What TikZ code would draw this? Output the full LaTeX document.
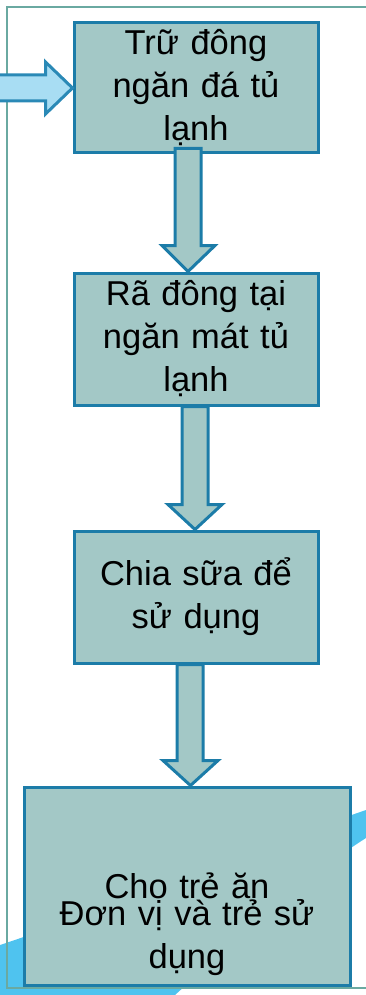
\documentclass[tikz,border=0pt]{standalone}
\usepackage{fontspec}
\setmainfont{Liberation Sans}
\usetikzlibrary{calc}

\begin{document}
\begin{tikzpicture}[x=1pt,y=-1pt]
  \definecolor{boxfill}{HTML}{A3C8C6}
  \definecolor{boxline}{HTML}{1C7CA8}
  \definecolor{frameline}{HTML}{6AA9A1}
  \definecolor{feedfill}{HTML}{A8DDF3}
  \definecolor{feedline}{HTML}{2A89B6}
  \definecolor{swoosh}{HTML}{4FC3EF}
  \tikzset{
    stepbox/.style={draw=boxline,fill=boxfill,line width=3pt,minimum width=244pt,
      inner sep=0pt,align=center,text width=236pt,font=\fontsize{34.5}{43}\selectfont},
    steptext/.style={inner sep=0pt,align=center,text width=300pt,font=\fontsize{34.5}{43}\selectfont},
    downarrow/.style={draw=boxline,fill=boxfill,line width=3pt,line join=miter},
    feedarrow/.style={draw=feedline,fill=feedfill,line width=3pt,line join=miter}
  }
  \useasboundingbox (0,0) rectangle (366,995);
  \clip (0,0) rectangle (366,995);
  \fill [swoosh] (0,945) .. controls (120,905) and (250,850) .. (366,810) -- (366,838)
    .. controls (300,880) and (230,945) .. (175,995) -- (0,995) -- cycle;
  \draw [frameline,line width=2.5pt] (7,7) rectangle (390,988);
  \node [stepbox,minimum height=130pt] (trudong) at (196,88) {Trữ đông\\ngăn đá tủ\\lạnh};
  \node [stepbox,minimum height=132pt] (radong) at (196,339) {Rã đông tại\\ngăn mát tủ\\lạnh};
  \node [stepbox,minimum height=132pt] (chiasua) at (196,597) {Chia sữa để\\sử dụng};
  \node [stepbox,minimum width=326pt,text width=316pt,minimum height=198pt] (choan) at (187,886) {Cho trẻ ăn};
  \node [steptext] (donvi) at (187,938) {Đơn vị và trẻ sử\\dụng};
  \coordinate (nguon) at (-5,88);
  \draw [feedarrow] ($(nguon)+(0,-13)$) -- ($(trudong.west)+(-27,-13)$) -- ++(0,-13) -- (trudong.west)
    -- ($(trudong.west)+(-27,26)$) -- ++(0,-13) -- ($(nguon)+(0,13)$) -- cycle;
  \draw [downarrow] ($(trudong.south)+(-21,-6)$) -- ($(radong.north)+(-21,-26)$) -- ++(-13,0)
    -- ($(radong.north)+(-8,0)$) -- ($(radong.north)+(19,-26)$) -- ++(-14,0)
    -- ($(trudong.south)+(5,-6)$) -- cycle;
  \draw [downarrow] (radong.south) ++(-14,0) -- ($(chiasua.north)+(-14,-25)$) -- ++(-14,0)
    -- ($(chiasua.north)+(-1,0)$) -- ($(chiasua.north)+(26,-25)$) -- ++(-14,0)
    -- ($(radong.south)+(12,0)$) -- cycle;
  \draw [downarrow] (chiasua.south) ++(-19,0) -- ($(chiasua.south |- choan.north)+(-19,-25)$) -- ++(-14,0)
    -- ($(chiasua.south |- choan.north)+(-5.5,0)$) -- ($(chiasua.south |- choan.north)+(22,-25)$) -- ++(-15,0)
    -- ($(chiasua.south)+(7,0)$) -- cycle;
\end{tikzpicture}
\end{document}
